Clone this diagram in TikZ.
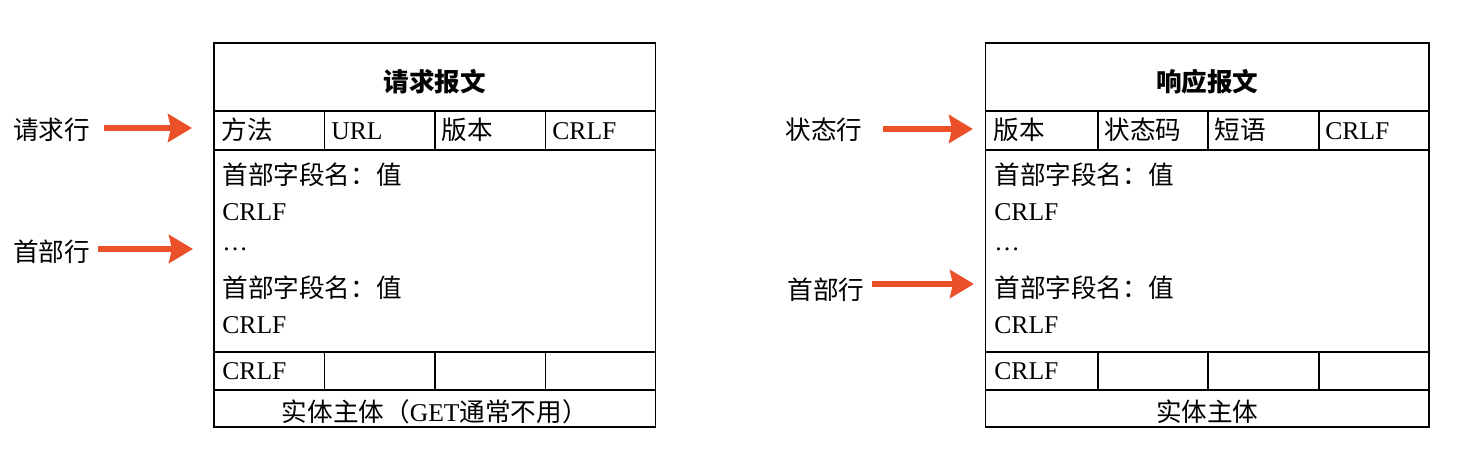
\documentclass[tikz,border=0pt]{standalone}
\usepackage{fontspec}
\setmainfont{Liberation Serif}
\newfontfamily\cjk{Noto Sans CJK SC}
\usetikzlibrary{arrows.meta}
\definecolor{arrowred}{RGB}{236,80,40}

\tikzset{
  frame/.style={line width=0.9pt},
  cell/.style={anchor=base west, inner sep=0pt, font=\fontsize{12.8}{15}\selectfont},
  title/.style={anchor=base, inner sep=0pt, font=\cjk\bfseries\fontsize{12.8}{15}\selectfont},
  tag/.style={anchor=west, inner sep=0pt, font=\cjk\fontsize{12.8}{15}\selectfont},
  pointer/.style={draw=arrowred, line width=3pt, -{Stealth[length=12pt,width=14pt,inset=1.5pt]}},
}

\begin{document}
\begin{tikzpicture}[x=0.5pt,y=-0.5pt]
        \useasboundingbox (0,0) rectangle (1474,450);

        % request message
        \draw[frame] (214,43) rectangle (655.5,427);
        \draw[frame] (214,111) -- (655.5,111);
        \draw[frame] (214,150) -- (655.5,150);
        \draw[frame] (214,352) -- (655.5,352);
        \draw[frame] (214,390) -- (655.5,390);
        \draw[frame] (324.5,111) -- (324.5,150);
        \draw[frame] (435,111) -- (435,150);
        \draw[frame] (545.5,111) -- (545.5,150);
        \draw[frame] (324.5,352) -- (324.5,390);
        \draw[frame] (435,352) -- (435,390);
        \draw[frame] (545.5,352) -- (545.5,390);

        \node[title] (reqtitle) at (434.75,91) {请求报文};
        \node[cell] (method) at (221,139) {\cjk 方法};
        \node[cell] (url) at (331,139) {URL};
        \node[cell] (reqver) at (441,139) {\cjk 版本};
        \node[cell] (reqcrlf) at (552,139) {CRLF};
        \node[cell] (reqhdra) at (222,184) {\cjk 首部字段名：值};
        \node[cell] (reqcrlfa) at (222,220) {CRLF};
        \node[cell] (reqdots) at (222,250) {…};
        \node[cell] (reqhdrb) at (222,297) {\cjk 首部字段名：值};
        \node[cell] (reqcrlfb) at (222,333) {CRLF};
        \node[cell] (reqblank) at (222,379) {CRLF};
        \node[cell, anchor=base] (reqbody) at (434.75,421) {{\cjk 实体主体（}GET{\cjk 通常不用）}};

        % response message
        \draw[frame] (985.5,43) rectangle (1429,427);
        \draw[frame] (985.5,111) -- (1429,111);
        \draw[frame] (985.5,150) -- (1429,150);
        \draw[frame] (985.5,352) -- (1429,352);
        \draw[frame] (985.5,390) -- (1429,390);
        \draw[frame] (1098,111) -- (1098,150);
        \draw[frame] (1208,111) -- (1208,150);
        \draw[frame] (1319,111) -- (1319,150);
        \draw[frame] (1098,352) -- (1098,390);
        \draw[frame] (1208,352) -- (1208,390);
        \draw[frame] (1319,352) -- (1319,390);

        \node[title] (resptitle) at (1207.25,91) {响应报文};
        \node[cell] (respver) at (993,139) {\cjk 版本};
        \node[cell] (code) at (1104,139) {\cjk 状态码};
        \node[cell] (phrase) at (1214,139) {\cjk 短语};
        \node[cell] (respcrlf) at (1325,139) {CRLF};
        \node[cell] (resphdra) at (994,184) {\cjk 首部字段名：值};
        \node[cell] (respcrlfa) at (994,220) {CRLF};
        \node[cell] (respdots) at (994,250) {…};
        \node[cell] (resphdrb) at (994,297) {\cjk 首部字段名：值};
        \node[cell] (respcrlfb) at (994,333) {CRLF};
        \node[cell] (respblank) at (994,379) {CRLF};
        \node[cell, anchor=base] (respbody) at (1207.25,421) {\cjk 实体主体};

        % labels and arrows
        \node[tag] (reqline) at (13,130) {请求行};
        \node[tag] (reqhead) at (13,252) {首部行};
        \node[tag] (statline) at (785,130) {状态行};
        \node[tag] (resphead) at (787,290) {首部行};

        \coordinate (reqlinefrom) at (104,128);
        \coordinate (reqlineto) at (192,128);
        \coordinate (reqheadfrom) at (98,249);
        \coordinate (reqheadto) at (193,249);
        \coordinate (statlinefrom) at (883,129);
        \coordinate (statlineto) at (973,129);
        \coordinate (respheadfrom) at (872,284);
        \coordinate (respheadto) at (974,284);

        \draw[pointer] (reqlinefrom) -- (reqlineto);
        \draw[pointer] (reqheadfrom) -- (reqheadto);
        \draw[pointer] (statlinefrom) -- (statlineto);
        \draw[pointer] (respheadfrom) -- (respheadto);
    \end{tikzpicture}
\end{document}
